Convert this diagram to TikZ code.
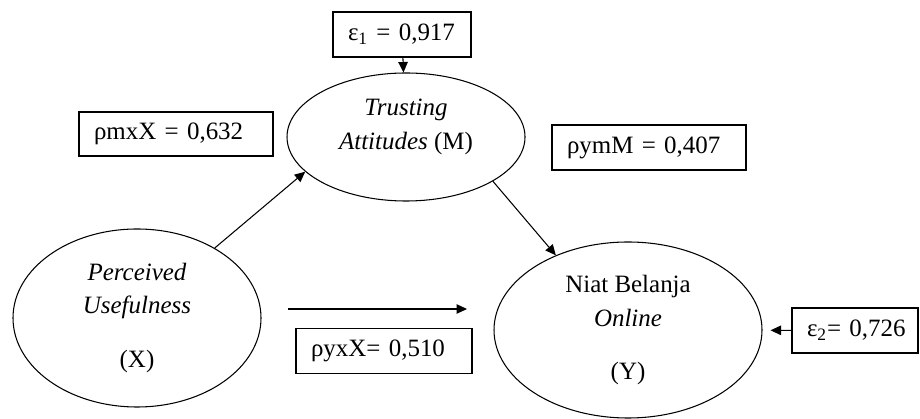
\documentclass[tikz,border=0pt]{standalone}
\usepackage{fontspec}
\setmainfont{Liberation Serif}
\usetikzlibrary{arrows.meta,shapes.geometric}

\begin{document}
\begin{tikzpicture}[
  font=\fontsize{14.2}{19}\selectfont,
  var/.style={ellipse, draw=black, line width=0.6pt, inner sep=0pt, align=center},
  coef/.style={draw=black, line width=0.8pt, minimum height=0.9cm, inner xsep=0.3cm, inner ysep=0pt, align=left},
  path/.style={-{Triangle[length=2.1mm, width=1.9mm]}, line width=0.6pt},
]
\useasboundingbox (0,0) rectangle (18.4,8.38);

% ===== variables =====
\node[var, minimum width=4.96cm, minimum height=3.56cm] (X) at (2.74, 2.02)
  {\textit{Perceived}\\ \textit{Usefulness}\\[12pt] (X)};
\node[var, minimum width=4.76cm, minimum height=2.56cm,
  label={[name=Mlab, align=center, yshift=0.2cm]center:\textit{Trusting}\\ \textit{Attitudes} (M)}]
  (M) at (8.12, 5.64) {};
\node[var, minimum width=5.36cm, minimum height=3.52cm] (Y) at (12.56, 1.78)
  {Niat Belanja\\ \textit{Online}\\[11pt] (Y)};

% ===== coefficients =====
\node[coef, text width=2.16cm] (e1) at (8.04, 7.69) {ε\textsubscript{1}~=~0,917};
\node[coef, text width=3.28cm, minimum height=0.88cm] (pmx) at (3.52, 5.70) {ρmxX~=~0,632};
\node[coef, text width=3.28cm] (pym) at (12.98, 5.43) {ρymM~=~0,407};
\node[coef, text width=2.92cm] (pyx) at (7.68, 1.36) {ρyxX=~0,510};
\node[coef, text width=1.92cm] (e2) at (17.10, 1.77) {ε\textsubscript{2}=~0,726};

% ===== paths =====
\coordinate (h1) at (5.76, 2.2);
\coordinate (h2) at (9.34, 2.2);
\draw[path] (X.42) -- (M.199);
\draw[path] (M.333) -- (Y.134);
\draw[path] (h1) -- (h2);
\draw[path] (e1) -- (M);
\draw[path, shorten >=0.16cm] (e2) -- (Y);

\end{tikzpicture}
\end{document}
